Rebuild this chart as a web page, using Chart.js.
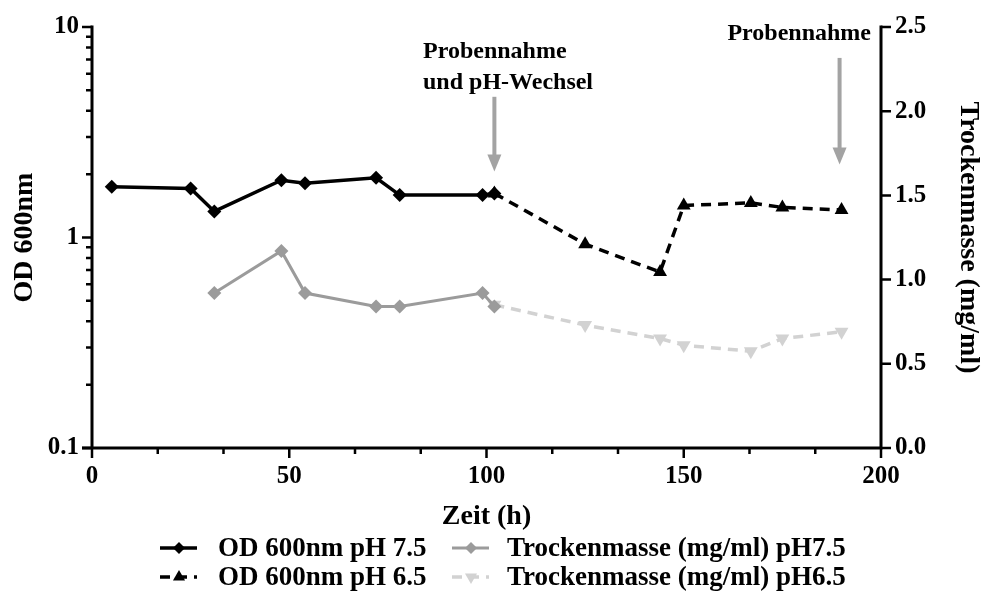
<!DOCTYPE html>
<html>
<head>
<meta charset="utf-8">
<script src="https://cdn.jsdelivr.net/npm/chart.js@4/dist/chart.umd.min.js"></script>
<style>
  body { margin: 0; background: #fff; }
  canvas { display: block; }
</style>
</head>
<body>
<canvas id="chart" width="984" height="599"></canvas>
<script>
// data
const timeOd75 = [5, 25, 31, 48, 54, 72, 78, 99, 102];
const od75 = [1.74, 1.71, 1.33, 1.87, 1.81, 1.92, 1.59, 1.59, 1.62];
const timeOd65 = [102, 125, 144, 150, 167, 175, 190];
const od65 = [1.62, 0.93, 0.685, 1.42, 1.46, 1.39, 1.35];
const timeTm75 = [31, 48, 54, 72, 78, 99, 102];
const tm75 = [0.92, 1.17, 0.92, 0.84, 0.84, 0.92, 0.84];
const timeTm65 = [102, 125, 144, 150, 167, 175, 190];
const tm65 = [0.85, 0.73, 0.65, 0.61, 0.575, 0.65, 0.69];

const xTicks = [0, 50, 100, 150, 200];
const odTicks = [0.1, 1, 10];
const odMinorTicks = [0.2, 0.3, 0.4, 0.5, 0.6, 0.7, 0.8, 0.9, 2, 3, 4, 5, 6, 7, 8, 9];
const tmTicks = [0, 0.5, 1.0, 1.5, 2.0, 2.5];

const legendLabels = ['OD 600nm pH 7.5', 'Trockenmasse (mg/ml) pH7.5', 'OD 600nm pH 6.5', 'Trockenmasse (mg/ml) pH6.5'];

// arrows: time, OD value at tip, OD value at top
const arrowTime = [102, 189.5];
const arrowTip = [2.06, 2.22];
const arrowTop = [4.66, 7.13];

const pts = (xs, ys) => xs.map((x, i) => ({ x: x, y: ys[i] }));

const black = '#000000';
const gray = '#9b9b9b';
const light = '#d2d2d2';
const arrowGray = '#a3a3a3';

const serif = '"Liberation Serif", "Times New Roman", serif';

const axesPlugin = {
  id: 'axesPlugin',
  afterDraw(chart) {
    const ctx = chart.ctx;
    const a = chart.chartArea;
    const x = chart.scales.x, y = chart.scales.y, y1 = chart.scales.y1;
    ctx.save();
    ctx.strokeStyle = black;
    ctx.fillStyle = black;
    ctx.lineWidth = 3;
    ctx.beginPath();
    ctx.moveTo(a.left, a.top - 1.5); ctx.lineTo(a.left, a.bottom);
    ctx.moveTo(a.left - 10, a.bottom); ctx.lineTo(a.right, a.bottom);
    ctx.moveTo(a.right, a.top - 1.5); ctx.lineTo(a.right, a.bottom + 1.5);
    ctx.stroke();

    ctx.lineWidth = 2.5;
    ctx.beginPath();
    // x ticks, minor every 50/3 h
    for (let i = 0; i <= 12; i++) {
      const v = i * 50 / 3;
      const px = x.getPixelForValue(v);
      const len = (i % 3 === 0) ? 10 : 6;
      ctx.moveTo(px, a.bottom); ctx.lineTo(px, a.bottom + len);
    }
    // left log ticks
    odTicks.forEach(v => {
      const py = y.getPixelForValue(v);
      ctx.moveTo(a.left, py); ctx.lineTo(a.left - 10, py);
    });
    odMinorTicks.forEach(v => {
      const py = y.getPixelForValue(v);
      ctx.moveTo(a.left, py); ctx.lineTo(a.left - 6, py);
    });
    // right ticks
    tmTicks.forEach(v => {
      const py = y1.getPixelForValue(v);
      ctx.moveTo(a.right, py); ctx.lineTo(a.right + 10, py);
    });
    ctx.stroke();

    // tick labels
    ctx.font = 'bold 25px ' + serif;
    ctx.textBaseline = 'middle';
    ctx.textAlign = 'center';
    xTicks.forEach(v => ctx.fillText(String(v), x.getPixelForValue(v), a.bottom + 29));
    ctx.textAlign = 'right';
    odTicks.forEach(v => ctx.fillText(String(v), a.left - 13, y.getPixelForValue(v)));
    ctx.textAlign = 'left';
    tmTicks.forEach(v => ctx.fillText(v.toFixed(1), a.right + 14, y1.getPixelForValue(v)));

    // axis titles
    ctx.font = 'bold 28px ' + serif;
    ctx.textAlign = 'center';
    ctx.fillText('Zeit (h)', (a.left + a.right) / 2, 517);
    ctx.save();
    ctx.translate(25, (a.top + a.bottom) / 2);
    ctx.rotate(-Math.PI / 2);
    ctx.fillText('OD 600nm', 0, 0);
    ctx.restore();
    ctx.save();
    ctx.translate(968, (a.top + a.bottom) / 2);
    ctx.rotate(Math.PI / 2);
    ctx.fillText('Trockenmasse (mg/ml)', 0, 0);
    ctx.restore();

    // arrows and notes
    ctx.strokeStyle = arrowGray;
    ctx.fillStyle = arrowGray;
    ctx.lineWidth = 4;
    arrowTime.forEach((t, i) => {
      const px = x.getPixelForValue(t);
      const tip = y.getPixelForValue(arrowTip[i]);
      const top = y.getPixelForValue(arrowTop[i]);
      ctx.beginPath();
      ctx.moveTo(px, top); ctx.lineTo(px, tip - 14);
      ctx.stroke();
      ctx.beginPath();
      ctx.moveTo(px - 7, tip - 17); ctx.lineTo(px + 7, tip - 17); ctx.lineTo(px, tip);
      ctx.closePath();
      ctx.fill();
    });
    ctx.fillStyle = black;
    ctx.font = 'bold 24px ' + serif;
    ctx.textAlign = 'left';
    ctx.fillText('Probennahme', 423, 52);
    ctx.fillText('und pH-Wechsel', 423, 83);
    ctx.textAlign = 'right';
    ctx.fillText('Probennahme', 871, 34);

    // legend, two columns
    const ds = chart.data.datasets;
    const colX = [160, 452];
    const textX = [218, 507];
    const rowY = [548, 577];
    ctx.font = 'bold 27px ' + serif;
    ctx.textAlign = 'left';
    ds.forEach((d, k) => {
      const col = k % 2, row = Math.floor(k / 2);
      const x0 = colX[col], yy = rowY[row];
      ctx.strokeStyle = d.borderColor;
      ctx.fillStyle = d.pointBackgroundColor;
      ctx.lineWidth = d.borderWidth;
      ctx.setLineDash(d.borderDash || []);
      ctx.beginPath();
      ctx.moveTo(x0, yy); ctx.lineTo(x0 + 37, yy);
      ctx.stroke();
      ctx.setLineDash([]);
      Chart.helpers.drawPoint(ctx, {
        pointStyle: d.pointStyle, radius: d.pointRadius - 1,
        rotation: d.pointRotation || 0, borderWidth: 0
      }, x0 + 19, yy);
      ctx.fillStyle = black;
      ctx.fillText(d.label, textX[col], yy + 1);
    });
    ctx.restore();
  }
};

new Chart(document.getElementById('chart'), {
  type: 'line',
  data: {
    datasets: [
      {
        label: legendLabels[0], data: pts(timeOd75, od75), yAxisID: 'y', order: 1,
        borderColor: black, borderWidth: 3.5, pointStyle: 'rectRot', pointRadius: 7,
        pointBackgroundColor: black, pointBorderColor: black, pointBorderWidth: 0
      },
      {
        label: legendLabels[1], data: pts(timeTm75, tm75), yAxisID: 'y1', order: 2,
        borderColor: gray, borderWidth: 3, pointStyle: 'rectRot', pointRadius: 7,
        pointBackgroundColor: gray, pointBorderColor: gray, pointBorderWidth: 0
      },
      {
        label: legendLabels[2], data: pts(timeOd65, od65), yAxisID: 'y', order: 0,
        borderColor: black, borderWidth: 3.5, borderDash: [10, 7], pointStyle: 'triangle', pointRadius: 8,
        pointBackgroundColor: black, pointBorderColor: black, pointBorderWidth: 0
      },
      {
        label: legendLabels[3], data: pts(timeTm65, tm65), yAxisID: 'y1', order: 3,
        borderColor: light, borderWidth: 3.5, borderDash: [10, 7], pointStyle: 'triangle', pointRotation: 180, pointRadius: 8,
        pointBackgroundColor: light, pointBorderColor: light, pointBorderWidth: 0
      }
    ]
  },
  options: {
    responsive: false,
    animation: false,
    devicePixelRatio: 1,
    layout: { padding: { left: 92, right: 103, top: 27, bottom: 151 } },
    elements: { line: { tension: 0 } },
    scales: {
      x: { type: 'linear', min: 0, max: 200, display: false },
      y: { type: 'logarithmic', min: 0.1, max: 10, display: false },
      y1: { type: 'linear', min: 0, max: 2.5, display: false, position: 'right' }
    },
    plugins: {
      legend: { display: false },
      tooltip: { enabled: false }
    }
  },
  plugins: [axesPlugin]
});
</script>
</body>
</html>
